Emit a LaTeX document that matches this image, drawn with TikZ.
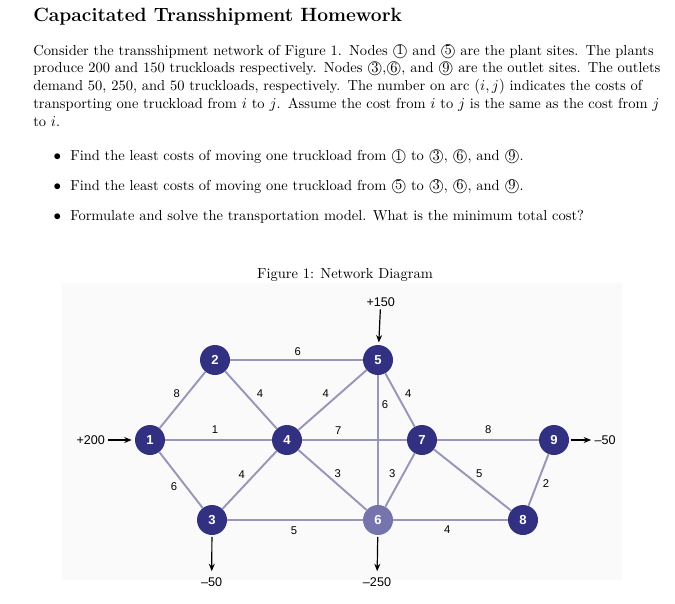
\documentclass[tikz,border=0pt]{standalone}
\usepackage{amsmath}
\usepackage{fontspec}
\newfontfamily\netfont[Ligatures=TeX]{Liberation Sans}
\usetikzlibrary{arrows.meta,positioning}
\definecolor{siteblue}{RGB}{50,48,128}
\definecolor{sitelight}{RGB}{118,116,172}
\definecolor{arcgray}{RGB}{152,151,184}
\definecolor{photobg}{RGB}{251,250,251}
\newcommand{\fullline}[1]{\makebox[415.8pt][s]{#1}}

\begin{document}
\begin{tikzpicture}[x=0.6667pt,y=-0.6667pt,
  every node/.style={font=\fontsize{9.65}{12}\selectfont},
  site/.style={circle,fill=siteblue,text=white,minimum size=20pt,inner sep=0pt,
    font=\netfont\bfseries\fontsize{8.7}{10}\selectfont},
  arc/.style={draw=arcgray,line width=1.3pt},
  cost/.style={font=\netfont\fontsize{7.5}{9}\selectfont,inner sep=1pt},
  supply/.style={font=\netfont\fontsize{8.4}{10}\selectfont,inner sep=2pt},
  flow/.style={-{Stealth[length=5pt,width=4pt]},line width=0.8pt}]
  \useasboundingbox (0,0) rectangle (675,603);
  % heading and problem text
  \node[anchor=base west,inner sep=0pt,font=\bfseries\fontsize{12.8}{15}\selectfont] (title) at (33,21.7)
    {Capacitated Transshipment Homework};
  \node[anchor=base west,inner sep=0pt,text width=415.8pt,align=left] (intro) at (33,55)
    {\fullline{Consider the transshipment network of Figure 1. Nodes \textcircled{1} and \textcircled{5} are the plant sites. The plants}\\
     \fullline{produce 200 and 150 truckloads respectively. Nodes \textcircled{3},\textcircled{6}, and \textcircled{9} are the outlet sites. The outlets}\\
     \fullline{demand 50, 250, and 50 truckloads, respectively. The number on arc $(i,j)$ indicates the costs of}\\
     \fullline{transporting one truckload from $i$ to $j$. Assume the cost from $i$ to $j$ is the same as the cost from $j$}\\
     to $i$.};
  % questions
  \foreach \k/\y/\txt in {1/160.7/{Find the least costs of moving one truckload from \textcircled{1} to \textcircled{3}, \textcircled{6}, and \textcircled{9}.},
                          2/190/{Find the least costs of moving one truckload from \textcircled{5} to \textcircled{3}, \textcircled{6}, and \textcircled{9}.},
                          3/220/{Formulate and solve the transportation model. What is the minimum total cost?}}{
    \node[anchor=base,inner sep=0pt] (dot\k) at (57.3,\y) {$\bullet$};
    \node[anchor=base west,inner sep=0pt] (q\k) at (70,\y) {\txt};
  }
  \node[anchor=base,inner sep=0pt] (caption) at (345,278) {Figure 1: Network Diagram};
  % scanned figure area
  \fill[photobg] (62,283) rectangle (622,580);
  % sites
  \foreach \num/\x/\y in {1/150/440, 2/215/360, 3/212/520, 4/287/440, 5/378/360, 7/422/440, 8/523/520, 9/554/440}{
    \node[site] (n\num) at (\x,\y) {\num};
  }
  \node[site,fill=sitelight] (n6) at (378,520) {6};
  % arcs with unit costs
  \foreach \a/\b/\c/\x/\y in {1/2/8/176.7/393.3, 2/5/6/297.7/351.7, 2/4/4/260/394, 4/5/4/325.7/394,
                              1/4/1/215/429.3, 4/7/7/338.3/430.7, 5/6/6/385/404.3, 5/7/4/408.3/394,
                              7/9/8/488.3/430, 6/7/3/392.3/473.3, 7/8/5/479.3/473.3, 1/3/6/174/486.7,
                              3/4/4/241.7/475, 4/6/3/337.7/474, 3/6/5/294/530.7, 6/8/4/447.3/529.3,
                              8/9/2/546/484}{
    \draw[arc] (n\a) -- (n\b);
    \node[cost] (c\a\b) at (\x,\y) {\c};
  }
  % supplies and demands
  \node[supply] (s1) at (90.7,440) {+200};
  \node[supply] (s5) at (380.7,301.7) {+150};
  \node[supply] (d9) at (605,440) {--50};
  \node[supply] (d3) at (211.7,582) {--50};
  \node[supply] (d6) at (377,582) {--250};
  \draw[flow,shorten >=2pt] (s1) -- (n1);
  \draw[flow,shorten >=1.5pt] (s5) -- (n5);
  \draw[flow,shorten <=1pt] (n9) -- (d9);
  \draw[flow,shorten <=1pt,shorten >=2pt] (n3) -- (d3);
  \draw[flow,shorten <=1pt,shorten >=2pt] (n6) -- (d6);
\end{tikzpicture}
\end{document}
